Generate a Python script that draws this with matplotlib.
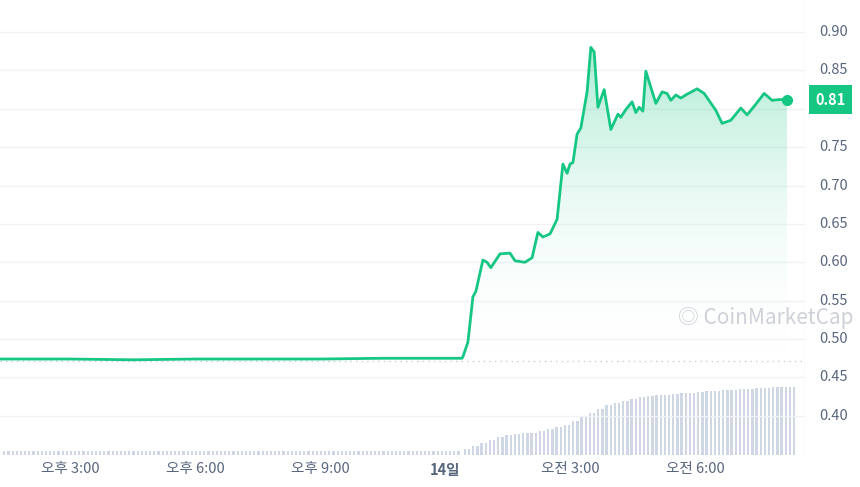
import matplotlib.pyplot as plt
import numpy as np
from matplotlib.colors import LinearSegmentedColormap

plt.rcParams['font.family'] = ['Noto Sans CJK KR', 'DejaVu Sans']

# hours relative to midnight (14일 00:00), price in USD
hours = [-10.68, -9.0, -7.5, -6.0, -4.5, -3.0, -1.5, 0.0, 0.41,
         0.43, 0.55, 0.67, 0.74, 0.91, 1.01, 1.10, 1.32, 1.56, 1.68, 1.92,
         2.09, 2.23, 2.35, 2.52, 2.69, 2.83, 2.93, 3.00, 3.07, 3.17, 3.26,
         3.41, 3.50, 3.58, 3.67, 3.82, 3.98, 4.15, 4.22, 4.34, 4.49, 4.58,
         4.66, 4.75, 4.82, 4.90, 5.06, 5.21, 5.33, 5.42, 5.54, 5.66, 5.81,
         6.05, 6.22, 6.50, 6.65, 6.86, 7.10, 7.25, 7.46, 7.66, 7.85, 8.02,
         8.21]
price = [0.474, 0.474, 0.473, 0.474, 0.474, 0.474, 0.475, 0.475, 0.475,
         0.477, 0.496, 0.555, 0.562, 0.603, 0.600, 0.593, 0.611, 0.612,
         0.602, 0.600, 0.606, 0.639, 0.633, 0.637, 0.656, 0.728, 0.716,
         0.728, 0.730, 0.767, 0.775, 0.822, 0.880, 0.874, 0.802, 0.825,
         0.773, 0.793, 0.789, 0.799, 0.809, 0.795, 0.802, 0.797, 0.849,
         0.835, 0.807, 0.822, 0.820, 0.811, 0.818, 0.814, 0.819, 0.826,
         0.820, 0.798, 0.781, 0.785, 0.801, 0.792, 0.806, 0.820, 0.811,
         0.812, 0.812]

vol_hours_pre = np.arange(-10.6, 0.4, 0.1)
vol_pre = [4] * len(vol_hours_pre)
vol_hours_post = np.arange(0.45, 8.3, 0.2)
vol_post = [6, 9, 12, 15, 18, 20, 21, 22, 22, 24, 26, 28, 30, 34, 38, 42,
            46, 50, 52, 54, 56, 58, 59, 60, 60, 61, 62, 62, 63, 64, 64, 65,
            65, 66, 66, 67, 67, 68, 68, 68]

tick_hours = [-9, -6, -3, 0, 3, 6]
tick_labels = ['오후 3:00', '오후 6:00', '오후 9:00', '14일', '오전 3:00', '오전 6:00']
yticks = [0.40, 0.45, 0.50, 0.55, 0.60, 0.65, 0.70, 0.75, 0.80, 0.85, 0.90]

green = '#16c784'
fig = plt.figure(figsize=(8.6, 4.87), dpi=100)
ax = fig.add_axes([0, 32 / 487, 805 / 860, 455 / 487])
axv = fig.add_axes(ax.get_position(), sharex=ax)
axv.set_zorder(0)
ax.set_zorder(1)
ax.patch.set_visible(False)

# volume bars (two thin bars per slot after midnight, like the dense stripes)
axv.bar(vol_hours_pre, vol_pre, width=0.05, color='#cfd6e4', align='edge')
post_h = vol_hours_post[:len(vol_post)]
axv.bar(post_h, vol_post, width=0.055, color='#cfd6e4', align='edge')
axv.bar(post_h + 0.1, vol_post, width=0.055, color='#cfd6e4', align='edge')
axv.set_ylim(0, 455)
axv.axis('off')

# price line with gradient fill
ax.plot(hours, price, color=green, lw=2, zorder=5, solid_joinstyle='round')
ymin, ymax = 0.349, 0.9417
grad = np.linspace(0, 1, 256).reshape(-1, 1)
cmap = LinearSegmentedColormap.from_list('g', [(1, 1, 1, 0), (0.086, 0.78, 0.52, 0.35)])
im = ax.imshow(grad, extent=[0.41, hours[-1], 0.475, 0.88], origin='lower',
               aspect='auto', cmap=cmap, zorder=3)
clip = ax.fill_between(hours, price, 0.475, color='none')
im.set_clip_path(clip.get_paths()[0], transform=ax.transData)
ax.plot(hours[-1], price[-1], 'o', color=green, ms=7, zorder=6)
ax.axhline(0.4716, color='#c8ccd4', lw=1, ls=(0, (1, 3)), zorder=2)

ax.set_xlim(-10.68, 8.64)
ax.set_ylim(ymin, ymax)
for y in yticks:
    ax.axhline(y, color='#f0f2f5', lw=1, zorder=1)
    ax.text(1.018, (y - ymin) / (ymax - ymin), f'{y:.2f}', transform=ax.transAxes,
            va='center', ha='left', fontsize=10.5, color='#58667e')
ax.set_yticks([])
ax.set_xticks(tick_hours)
ax.set_xticklabels(tick_labels, fontsize=10.5, color='#58667e')
ax.get_xticklabels()[3].set_fontweight('bold')
ax.tick_params(axis='x', length=0, pad=5)
for s in ax.spines.values():
    s.set_visible(False)
ax.axvline(8.64, color='#eceff3', lw=1)

ax.text(1.013, (0.812 - ymin) / (ymax - ymin), '0.81', transform=ax.transAxes,
        va='center', ha='left', fontsize=10.5, color='white', fontweight='bold',
        bbox=dict(boxstyle='square,pad=0.45', fc=green, ec='none'), zorder=10)
ax.text(5.6, 0.527, '\u25ce CoinMarketCap', fontsize=15, color='#c9ccd4',
        va='center', zorder=4, alpha=0.9, clip_on=False)

fig.savefig('out.png', dpi=100)
